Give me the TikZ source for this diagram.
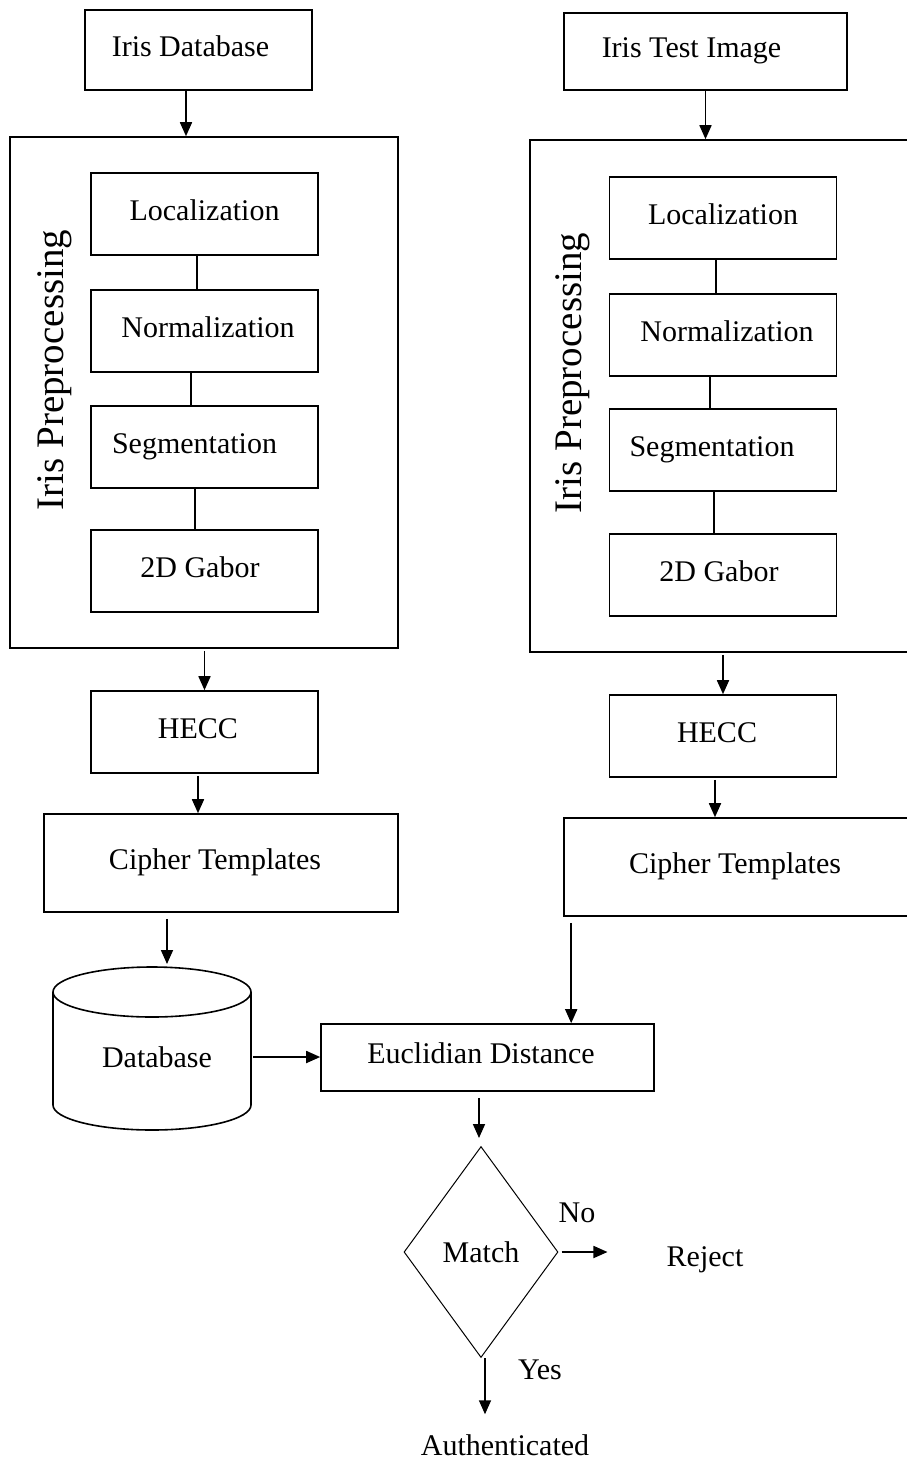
\documentclass[tikz,border=0pt]{standalone}
\usepackage{fontspec}
\setmainfont{Liberation Serif}
\usetikzlibrary{arrows.meta,shapes.geometric}
\colorlet{box edge}{black}
\def\dbbody{(53,992) -- (53,1105) arc[start angle=180,end angle=360,x radius=99pt,y radius=25pt] -- (251,992)}
\def\dbtop{(152,992) ellipse[x radius=99pt,y radius=25pt]}
\tikzset{stage/.style={draw=box edge, line width=1.6pt, minimum width=227pt, minimum height=82pt, inner sep=0pt, text height=21pt, text depth=8.5pt, font=\fontsize{30}{36}\selectfont},
	nudge/.style={execute at begin node={\hspace*{#1}}},
	frame/.style={draw=box edge, line width=1.6pt, minimum width=388pt, inner sep=0pt},
	side/.style={rotate=90, font=\fontsize{39}{47}\selectfont},
	plain/.style={inner sep=0pt, font=\fontsize{30}{36}\selectfont},
	flow/.style={line width=1.7pt, -{Triangle[length=14pt,width=12pt]}},
	link/.style={line width=1.6pt}}

\begin{document}
\begin{tikzpicture}[x=1pt,y=-1pt]
		\useasboundingbox (0,0) rectangle (906,1460);
		% enrolment side
		\node[stage, minimum height=80pt, nudge=-16pt] (idb) at (198.5,50) {Iris Database};
		\node[frame, minimum height=511pt] (preL) at (204,392.5) {};
		\node[side] (sideL) at (55,370) {Iris Preprocessing};
		\node[stage] (locL) at (204.5,214) {Localization};
		\node[stage, nudge=7pt] (normL) at (204.5,331) {Normalization};
		\node[stage, nudge=-20pt] (segL) at (204.5,447) {Segmentation};
		\node[stage, nudge=-9pt] (gabL) at (204.5,571) {2D Gabor};
		\node[stage, nudge=-13pt] (hecL) at (204.5,732) {HECC};
		\node[stage, minimum width=354pt, minimum height=98pt, nudge=-12pt] (ciphL) at (221,863) {Cipher Templates};
		\draw[link] \dbbody;
		\draw[link] \dbtop;
		\node[plain, minimum width=188pt] (db) at (157,1057) {Database};
		\coordinate (dbin) at (167,964);
		
		% test side
		\node[stage, minimum width=283pt, minimum height=77pt, nudge=-28pt] (itest) at (705.5,51.5) {Iris Test Image};
		\node[frame, minimum height=512pt] (preR) at (724,396) {};
		\node[side] (sideR) at (573,373) {Iris Preprocessing};
		\node[stage] (locR) at (723,218) {Localization};
		\node[stage, nudge=8pt] (normR) at (723,335) {Normalization};
		\node[stage, nudge=-22pt] (segR) at (723,450) {Segmentation};
		\node[stage, nudge=-8pt] (gabR) at (723,575) {2D Gabor};
		\node[stage, nudge=-12pt] (hecR) at (723,736) {HECC};
		\node[stage, minimum width=354pt, minimum height=98pt, nudge=-12pt] (ciphR) at (741,867) {Cipher Templates};
		
		% matching
		\node[stage, minimum width=333pt, minimum height=67pt, nudge=-13pt] (euc) at (487.5,1057.5) {Euclidian Distance};
		\node[diamond, draw=box edge, line width=1pt, minimum width=154pt, minimum height=211pt, inner sep=0pt, font=\fontsize{30}{36}\selectfont] (match) at (481,1252) {Match};
		\node[plain] (no) at (577,1213) {No};
		\node[plain] (rej) at (705,1260) {Reject};
		\node[plain] (yes) at (540,1370) {Yes};
		\node[plain] (auth) at (505,1445) {Authenticated};
		
		\draw[link] ([xshift=-7.5pt]locL.south) -- ([xshift=-7.5pt]locL.south |- normL.north);
		\draw[link] ([xshift=-13.5pt]normL.south) -- ([xshift=-13.5pt]normL.south |- segL.north);
		\draw[link] ([xshift=-9.5pt]segL.south) -- ([xshift=-9.5pt]segL.south |- gabL.north);
		\draw[link] ([xshift=-7pt]locR.south) -- ([xshift=-7pt]locR.south |- normR.north);
		\draw[link] ([xshift=-13pt]normR.south) -- ([xshift=-13pt]normR.south |- segR.north);
		\draw[link] ([xshift=-9pt]segR.south) -- ([xshift=-9pt]segR.south |- gabR.north);
		
		\draw[flow] ([xshift=-12.5pt]idb.south) -- ([xshift=-12.5pt]idb.south |- preL.north);
		\draw[flow] ([yshift=-2pt]preL.south -| hecL.north) -- (hecL.north);
		\draw[flow] ([xshift=-6.5pt,yshift=-2pt]hecL.south) -- ([xshift=-6.5pt]hecL.south |- ciphL.north);
		\draw[flow] ([yshift=-6pt]ciphL.south -| dbin) -- (dbin);
		\draw[flow] ([xshift=2pt]db.east) -- (db.east -| euc.west);
		
		\draw[flow] (itest.south) -- (itest.south |- preR.north);
		\draw[flow] ([yshift=-2pt]preR.south -| hecR.north) -- (hecR.north);
		\draw[flow] ([xshift=-8pt,yshift=-2pt]hecR.south) -- ([xshift=-8pt]hecR.south |- ciphR.north);
		\draw[flow] ([xshift=8pt,yshift=-6pt]ciphR.south west) -- ([xshift=8pt]ciphR.south west |- euc.north);
		
		\draw[flow] ([xshift=-8.5pt,yshift=-6pt]euc.south) -- ([xshift=-8.5pt,yshift=8pt]euc.south |- match.north);
		\draw[flow] ([xshift=3pt]match.east) -- ([xshift=-59pt]rej.west |- match.east);
		\draw[flow] ([xshift=4pt]match.south) -- ([xshift=4pt,yshift=20pt]match.south |- auth.north);
\end{tikzpicture}
\end{document}
